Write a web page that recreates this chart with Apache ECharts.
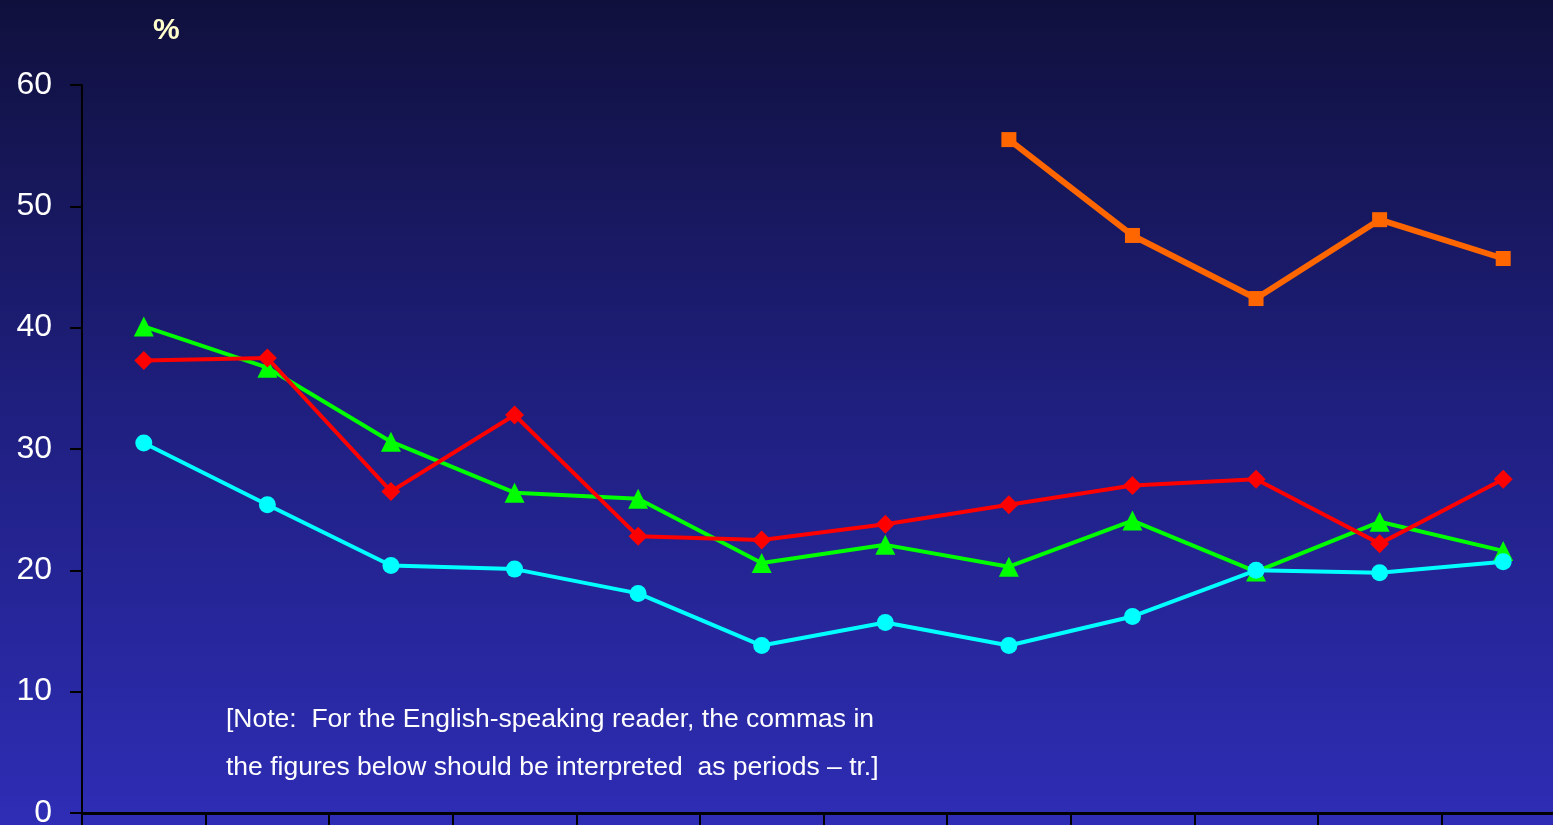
<!DOCTYPE html>
<html>
<head>
<meta charset="utf-8">
<script src="https://cdn.jsdelivr.net/npm/echarts@6/dist/echarts.min.js"></script>
<style>
html, body { margin: 0; padding: 0; }
#chart { width: 1553px; height: 825px; }
</style>
</head>
<body>
<div id="chart"></div>
<script>
var categories = ['1', '2', '3', '4', '5', '6', '7', '8', '9', '10', '11', '12'];
var cyanValues = [30.5, 25.4, 20.4, 20.1, 18.1, 13.8, 15.7, 13.8, 16.2, 20.0, 19.8, 20.7];
var greenValues = [40.1, 36.7, 30.6, 26.4, 25.9, 20.6, 22.1, 20.3, 24.1, 19.9, 24.0, 21.6];
var redValues = [37.3, 37.5, 26.5, 32.8, 22.8, 22.5, 23.8, 25.4, 27.0, 27.5, 22.2, 27.5];
var orangeValues = ['-', '-', '-', '-', '-', '-', '-', 55.5, 47.6, 42.4, 48.9, 45.7];

var chart = echarts.init(document.getElementById('chart'));

function line(name, data, color, symbol, size, width, z) {
	return {
		name: name,
		type: 'line',
		data: data,
		symbol: symbol,
		symbolSize: size,
		z: z,
		lineStyle: { color: color, width: width },
		itemStyle: { color: color },
		animation: false
	};
}

var option = {
	backgroundColor: {
		type: 'linear', x: 0, y: 0, x2: 0, y2: 1,
		colorStops: [
			{ offset: 0, color: '#10103d' },
			{ offset: 0.5, color: '#1f1f80' },
			{ offset: 1, color: '#2e2db5' }
		]
	},
	// the plot runs past the right edge of the picture
	grid: { left: 82, top: 85, width: 1483, height: 728, containLabel: false, outerBoundsMode: 'none' },
	xAxis: {
		type: 'category',
		data: categories,
		boundaryGap: true,
		axisLine: { lineStyle: { color: '#000', width: 3 } },
		axisTick: { show: true, length: 14, inside: false, lineStyle: { color: '#000', width: 2 } },
		axisLabel: { show: false }
	},
	yAxis: {
		type: 'value',
		min: 0,
		max: 60,
		interval: 10,
		splitLine: { show: false },
		axisLine: { show: true, lineStyle: { color: '#000', width: 2 } },
		axisTick: { show: true, length: 12, lineStyle: { color: '#000', width: 2 } },
		axisLabel: {
			color: '#ffffff',
			fontSize: 32,
			fontFamily: 'Liberation Sans, Arial, sans-serif',
			margin: 30
		}
	},
	graphic: [
		{
			type: 'text', left: 153, top: 16,
			style: { text: '%', fill: '#ffffcc', font: 'bold 30px "Liberation Sans", Arial, sans-serif' }
		},
		{
			type: 'text', left: 226, top: 696,
			style: {
				text: '[Note:  For the English-speaking reader, the commas in\nthe figures below should be interpreted  as periods \u2013 tr.]',
				fill: '#ffffff',
				font: '26.5px "Liberation Sans", Arial, sans-serif',
				lineHeight: 48
			}
		}
	],
	series: [
		line('orange', orangeValues, '#ff6600', 'rect', 15, 6, 2),
		line('green', greenValues, '#00ff00', 'triangle', 20, 4, 3),
		line('red', redValues, '#ff0000', 'diamond', 19, 4, 4),
		line('cyan', cyanValues, '#00ffff', 'circle', 17, 4, 5)
	]
};

chart.setOption(option);
</script>
</body>
</html>
